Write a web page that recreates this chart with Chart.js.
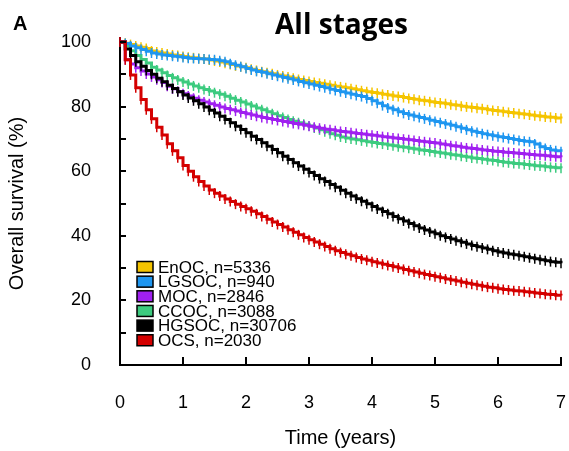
<!DOCTYPE html>
<html>
<head>
<meta charset="utf-8">
<script src="https://cdn.jsdelivr.net/npm/chart.js@4.4.1/dist/chart.umd.min.js"></script>
<style>
  html, body { margin: 0; padding: 0; background: #fff; }
  canvas { display: block; }
</style>
</head>
<body>
<canvas id="km" width="569" height="451"></canvas>
<script>
// Overall survival (%) by histotype, read monthly from 0 to 84 months of follow-up
const followUpMonths = Array.from({ length: 85 }, (_, i) => i);
const histotypes = ['EnOC', 'LGSOC', 'MOC', 'CCOC', 'HGSOC', 'OCS'];
const cohortSizes = [5336, 940, 2846, 3088, 30706, 2030];
const colours = ['#F5C400', '#1E96F0', '#A020F0', '#3CCB7F', '#000000', '#D40000'];

const enocSurvival = [
  100, 99.6, 99.2, 98.8, 98.4, 98.0, 97.2, 96.9, 96.6, 96.3, 96.0, 95.8,
  95.5, 95.3, 95.1, 94.9, 94.7, 94.4, 94.1, 93.8, 93.4, 93.0, 92.6, 92.3,
  92.0, 91.6, 91.2, 90.8, 90.5, 90.2, 89.8, 89.5, 89.2, 88.8, 88.4, 88.1,
  87.8, 87.5, 87.2, 86.9, 86.6, 86.3, 86.1, 85.8, 85.5, 85.2, 84.9, 84.6,
  84.4, 84.1, 83.8, 83.6, 83.3, 83.1, 82.8, 82.5, 82.3, 82.0, 81.8, 81.5,
  81.3, 81.1, 80.9, 80.6, 80.4, 80.1, 79.9, 79.7, 79.5, 79.3, 79.0, 78.8,
  78.6, 78.4, 78.2, 78.0, 77.8, 77.6, 77.4, 77.2, 77.0, 76.8, 76.7, 76.5,
  76.3
];
const lgsocSurvival = [
  100, 99.5, 98.8, 98.2, 97.7, 97.1, 96.6, 96.3, 96.0, 95.8, 95.6, 95.4,
  95.2, 95.0, 94.9, 94.8, 94.7, 94.6, 94.5, 94.2, 93.9, 93.3, 92.8, 92.3,
  91.8, 91.3, 90.9, 90.6, 90.2, 89.8, 89.4, 89.0, 88.6, 88.2, 87.8, 87.4,
  87.0, 86.6, 86.2, 85.8, 85.4, 85.0, 84.6, 84.2, 83.8, 83.4, 83.1, 82.5,
  81.8, 81.0, 80.3, 79.6, 79.0, 78.4, 77.9, 77.4, 77.0, 76.6, 76.2, 75.8,
  75.4, 75.0, 74.6, 74.2, 73.8, 73.3, 72.8, 72.4, 72.0, 71.6, 71.3, 71.0,
  70.7, 70.4, 70.1, 69.8, 69.5, 69.3, 69.1, 68.4, 67.6, 67.0, 66.6, 66.3,
  66.0
];
const mocSurvival = [
  100, 94.5, 93.2, 92.0, 91.0, 90.1, 89.2, 88.3, 87.5, 86.3, 85.5, 84.7,
  84.0, 83.3, 82.6, 82.0, 81.4, 80.9, 80.4, 79.9, 79.4, 79.0, 78.6, 78.2,
  77.8, 77.4, 77.0, 76.6, 76.3, 76.0, 75.7, 75.4, 75.1, 74.8, 74.5, 74.2,
  73.9, 73.6, 73.3, 73.0, 72.8, 72.5, 72.3, 72.1, 71.9, 71.7, 71.5, 71.3,
  71.1, 70.9, 70.7, 70.5, 70.3, 70.1, 69.9, 69.7, 69.5, 69.3, 69.1, 68.9,
  68.7, 68.4, 68.2, 67.9, 67.7, 67.4, 67.2, 67.0, 66.8, 66.6, 66.4, 66.2,
  66.1, 65.9, 65.8, 65.6, 65.5, 65.3, 65.2, 65.0, 64.9, 64.8, 64.6, 64.5,
  64.3
];
const ccocSurvival = [
  100, 98.8, 97.3, 95.8, 94.6, 93.5, 92.2, 91.3, 90.5, 89.6, 88.9, 88.2,
  87.6, 87.0, 86.4, 85.8, 85.3, 84.8, 84.3, 83.8, 83.2, 82.6, 82.0, 81.4,
  80.8, 80.2, 79.6, 79.0, 78.4, 77.8, 77.2, 76.6, 76.0, 75.5, 75.0, 74.5,
  74.0, 73.4, 72.8, 72.2, 71.6, 71.1, 70.6, 70.3, 70.0, 69.7, 69.4, 69.1,
  68.9, 68.6, 68.4, 68.1, 67.9, 67.6, 67.4, 67.1, 66.9, 66.6, 66.4, 66.1,
  65.9, 65.6, 65.4, 65.1, 64.9, 64.6, 64.4, 64.1, 63.9, 63.7, 63.5, 63.3,
  63.0, 62.8, 62.6, 62.4, 62.3, 62.1, 61.9, 61.7, 61.6, 61.4, 61.2, 61.1,
  60.9
];
const hgsocSurvival = [
  100, 97.8, 95.8, 93.9, 92.5, 91.2, 90.0, 88.8, 87.7, 86.6, 85.6, 84.6,
  83.6, 82.7, 81.8, 80.9, 79.9, 78.9, 78.0, 77.0, 76.0, 75.0, 73.9, 72.9,
  71.9, 70.8, 69.8, 68.8, 67.7, 66.7, 65.7, 64.6, 63.6, 62.6, 61.6, 60.6,
  59.6, 58.7, 57.7, 56.8, 55.9, 55.0, 54.1, 53.2, 52.3, 51.5, 50.7, 49.9,
  49.1, 48.3, 47.5, 46.8, 46.0, 45.3, 44.6, 43.8, 43.1, 42.4, 41.8, 41.2,
  40.6, 40.0, 39.5, 39.0, 38.5, 38.0, 37.5, 37.0, 36.6, 36.2, 35.8, 35.4,
  35.0, 34.7, 34.4, 34.1, 33.8, 33.5, 33.2, 32.9, 32.6, 32.3, 32.0, 31.8,
  31.5
];
const ocsSurvival = [
  100, 94.5, 89.8, 85.8, 82.2, 79.0, 76.2, 73.6, 71.2, 68.5, 66.3, 64.2,
  61.8, 60.0, 58.3, 56.8, 55.4, 54.2, 53.2, 52.3, 51.4, 50.6, 49.8, 49.1,
  48.4, 47.6, 46.8, 46.0, 45.1, 44.3, 43.5, 42.7, 41.9, 41.1, 40.3, 39.5,
  38.8, 38.1, 37.4, 36.7, 36.0, 35.4, 34.8, 34.3, 33.8, 33.3, 32.8, 32.4,
  32.0, 31.6, 31.2, 30.8, 30.4, 30.0, 29.6, 29.2, 28.8, 28.4, 28.0, 27.7,
  27.3, 27.0, 26.6, 26.3, 26.0, 25.6, 25.3, 25.0, 24.7, 24.4, 24.1, 23.9,
  23.6, 23.4, 23.2, 23.0, 22.9, 22.7, 22.5, 22.3, 22.1, 21.9, 21.8, 21.6,
  21.5
];

const survivalSeries = [enocSurvival, lgsocSurvival, mocSurvival, ccocSurvival, hgsocSurvival, ocsSurvival];
// drawing weight: higher is painted first (underneath)
const paintOrder = [6, 4, 3, 5, 2, 1];

const yLabelTicks = [0, 20, 40, 60, 80, 100];
const yMinorTicks = [0, 10, 20, 30, 40, 50, 60, 70, 80, 90, 100];
const xYearTicks = [0, 1, 2, 3, 4, 5, 6, 7];

const datasets = survivalSeries.map((vals, k) => ({
  label: histotypes[k] + ', n=' + cohortSizes[k],
  data: vals.map((v, i) => ({ x: followUpMonths[i] / 12, y: v })),
  borderColor: colours[k],
  backgroundColor: colours[k],
  borderWidth: 3,
  stepped: true,
  tension: 0,
  fill: false,
  pointStyle: 'line',
  rotation: 90,
  pointRadius: 5,
  pointBorderWidth: 1.5,
  pointBorderColor: colours[k],
  pointHoverRadius: 5,
  order: paintOrder[k],
  clip: 12
}));

// inward tick marks on both axes
const axisTicks = {
  id: 'axisTicks',
  afterDraw(chart) {
    const { ctx, scales: { x, y }, chartArea } = chart;
    ctx.save();
    ctx.strokeStyle = '#000';
    ctx.lineWidth = 2;
    ctx.beginPath();
    yMinorTicks.forEach(v => {
      const py = Math.round(y.getPixelForValue(v));
      ctx.moveTo(chartArea.left, py);
      ctx.lineTo(chartArea.left + 6, py);
    });
    xYearTicks.forEach(v => {
      if (v === 0) return;
      const px = Math.round(x.getPixelForValue(v));
      ctx.moveTo(px, chartArea.bottom);
      ctx.lineTo(px, chartArea.bottom - 8);
    });
    ctx.stroke();
    ctx.restore();
  }
};

// legend boxed swatches in the lower-left of the plot, plus heading and panel letter
const annotations = {
  id: 'annotations',
  afterDraw(chart) {
    const { ctx, chartArea } = chart;
    ctx.save();
    ctx.fillStyle = '#000';
    ctx.textBaseline = 'alphabetic';
    ctx.textAlign = 'left';
    ctx.font = 'bold 20px "Liberation Sans", Arial, sans-serif';
    ctx.fillText('A', 13, 30);
    ctx.textAlign = 'center';
    ctx.font = 'bold 28px "Open Sans", sans-serif';
    ctx.fillText('All stages', (chartArea.left + chartArea.right) / 2 + 1, 34);

    const left = chartArea.left + 17;
    const firstRow = chartArea.top + 225;
    const step = 14.65;
    ctx.font = '17px "Liberation Sans", Arial, sans-serif';
    ctx.textAlign = 'left';
    ctx.textBaseline = 'middle';
    chart.data.datasets.forEach((ds, i) => {
      const cy = firstRow + i * step;
      ctx.fillStyle = ds.borderColor;
      ctx.fillRect(left, cy - 5.5, 16, 11);
      ctx.strokeStyle = '#000';
      ctx.lineWidth = 1.5;
      ctx.strokeRect(left, cy - 5.5, 16, 11);
      ctx.fillStyle = '#000';
      ctx.fillText(ds.label, left + 21, cy + 1);
    });
    ctx.restore();
  }
};

new Chart(document.getElementById('km'), {
  type: 'line',
  data: { datasets },
  options: {
    responsive: false,
    animation: false,
    events: [],
    layout: { padding: { top: 42, right: 8, left: 0, bottom: 0 } },
    plugins: { legend: { display: false }, tooltip: { enabled: false }, title: { display: false } },
    scales: {
      x: {
        type: 'linear',
        min: 0,
        max: 7,
        afterFit(scale) {
          scale.height = 86;
          scale.paddingLeft = 0;
          scale.paddingRight = 0;
        },
        afterBuildTicks(scale) { scale.ticks = xYearTicks.map(v => ({ value: v })); },
        ticks: {
          color: '#000',
          font: { family: '"Liberation Sans", Arial, sans-serif', size: 18 },
          padding: 27,
          maxRotation: 0
        },
        grid: { display: false, drawTicks: false },
        border: { display: true, color: '#000', width: 2 },
        title: {
          display: true,
          text: 'Time (years)',
          color: '#000',
          font: { family: '"Liberation Sans", Arial, sans-serif', size: 20 },
          padding: { top: 0, bottom: 1 }
        }
      },
      y: {
        min: 0,
        max: 100,
        afterFit(scale) {
          scale.width = 120;
          scale.paddingTop = 0;
          scale.paddingBottom = 0;
        },
        afterBuildTicks(scale) { scale.ticks = yLabelTicks.map(v => ({ value: v })); },
        ticks: {
          color: '#000',
          font: { family: '"Liberation Sans", Arial, sans-serif', size: 18 },
          padding: 29
        },
        grid: { display: false, drawTicks: false },
        border: { display: true, color: '#000', width: 2 },
        title: {
          display: true,
          text: 'Overall survival (%)',
          color: '#000',
          font: { family: '"Liberation Sans", Arial, sans-serif', size: 20 },
          padding: { top: 5, bottom: 0 }
        }
      }
    }
  },
  plugins: [axisTicks, annotations]
});
</script>
</body>
</html>
